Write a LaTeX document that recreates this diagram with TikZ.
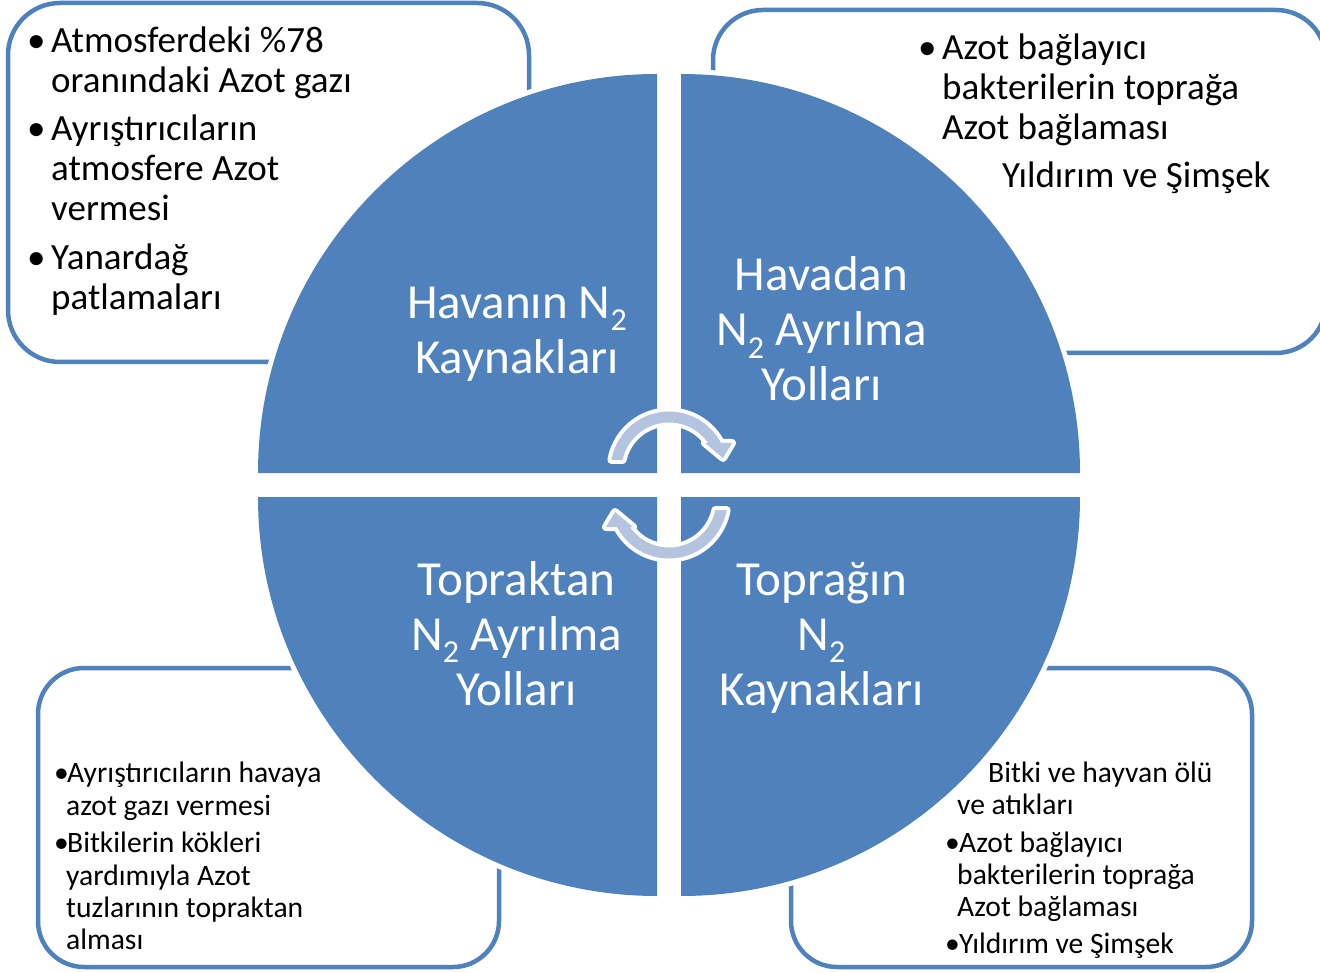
\documentclass[tikz,border=0pt]{standalone}
\usepackage{fontspec}
\setmainfont{Carlito}
\definecolor{pieblue}{RGB}{79,129,189}
\definecolor{boxline}{RGB}{79,129,189}
\definecolor{arrowfill}{RGB}{180,196,223}
\newcommand{\ntwo}{N\raisebox{-0.25em}{\fontsize{32}{32}\selectfont 2}}
\begin{document}
\begin{tikzpicture}[x=1pt,y=1pt,yscale=-1,
  box/.style={draw=boxline, line width=4.5pt, fill=white},
  halo/.style={fill=white},
  quad/.style={fill=pieblue},
  qt/.style={text=white, font=\fontsize{49}{55}\selectfont, anchor=base, inner sep=0pt},
  bt/.style={text=black, font=\fontsize{37}{40}\selectfont, anchor=base west, inner sep=0pt},
  st/.style={text=black, font=\fontsize{29.6}{32}\selectfont, anchor=base west, inner sep=0pt},
  arr/.style={fill=arrowfill, preaction={draw=white, line width=8pt, line join=round}}]
\useasboundingbox (0,0) rectangle (1320,973);
\fill[white] (0,0) rectangle (1320,973);

% boxes
\draw[box, rounded corners=52pt] (8,3) rectangle (529,362);
\draw[box, rounded corners=50pt] (713,10) rectangle (1326,353);
\draw[box, rounded corners=46pt] (38,668) rectangle (499,967);
\draw[box, rounded corners=46pt] (791,668) rectangle (1252,967);

% white halos around quadrants
\fill[halo] (657,473) -- (253,473) arc[start angle=180, end angle=270, radius=404] -- cycle;
\fill[halo] (681,473) -- (681,69) arc[start angle=270, end angle=360, radius=404] -- cycle;
\fill[halo] (681,497) -- (1085,497) arc[start angle=0, end angle=90, radius=404] -- cycle;
\fill[halo] (657,497) -- (657,901) arc[start angle=90, end angle=180, radius=404] -- cycle;

% quadrants
\fill[quad] (657,473) -- (258,473) arc[start angle=180, end angle=270, radius=399] -- cycle;
\fill[quad] (681,473) -- (681,74) arc[start angle=270, end angle=360, radius=399] -- cycle;
\fill[quad] (681,497) -- (1080,497) arc[start angle=0, end angle=90, radius=399] -- cycle;
\fill[quad] (657,497) -- (657,896) arc[start angle=90, end angle=180, radius=399] -- cycle;

% quadrant texts
\node[qt] (q1a) at (517,318.5) {Havanın \ntwo};
\node[qt] (q1b) at (517,373.5) {Kaynakları};
\node[qt] (q2a) at (821.5,291) {Havadan};
\node[qt] (q2b) at (821.5,346) {\ntwo{} Ayrılma};
\node[qt] (q2c) at (821.5,401) {Yolları};
\node[qt] (q3a) at (516.5,595) {Topraktan};
\node[qt] (q3b) at (516.5,650) {\ntwo{} Ayrılma};
\node[qt] (q3c) at (516.5,705) {Yolları};
\node[qt] (q4a) at (821.5,595) {Toprağın};
\node[qt] (q4b) at (821.5,650) {\ntwo};
\node[qt] (q4c) at (821.5,705) {Kaynakları};

% top-left box text
\node[bt] (tlb1) at (27,53) {•};
\node[bt] (tl1) at (51,53) {Atmosferdeki \%78};
\node[bt] (tl2) at (51,93) {oranındaki Azot gazı};
\node[bt] (tlb2) at (27,141) {•};
\node[bt] (tl3) at (51,141) {Ayrıştırıcıların};
\node[bt] (tl4) at (51,181) {atmosfere Azot};
\node[bt] (tl5) at (51,221) {vermesi};
\node[bt] (tlb3) at (27,270) {•};
\node[bt] (tl6) at (51,270) {Yanardağ};
\node[bt] (tl7) at (51,310) {patlamaları};

% top-right box text
\node[bt] (trb1) at (918,60) {•};
\node[bt] (tr1) at (942,60) {Azot bağlayıcı};
\node[bt] (tr2) at (942,100) {bakterilerin toprağa};
\node[bt] (tr3) at (942,140) {Azot bağlaması};
\node[bt] (tr4) at (1002,188) {Yıldırım ve Şimşek};

% bottom-left box text
\node[st] (blb1) at (54,782.5) {•};
\node[st] (bl1) at (67,782.5) {Ayrıştırıcıların havaya};
\node[st] (bl2) at (66,815) {azot gazı vermesi};
\node[st] (blb2) at (54,852) {•};
\node[st] (bl3) at (67,852) {Bitkilerin kökleri};
\node[st] (bl4) at (66,885) {yardımıyla Azot};
\node[st] (bl5) at (66,917.5) {tuzlarının topraktan};
\node[st] (bl6) at (66,949) {alması};

% bottom-right box text
\node[st] (br1) at (988,782) {Bitki ve hayvan ölü};
\node[st] (br2) at (957,814.5) {ve atıkları};
\node[st] (brb1) at (945,852) {•};
\node[st] (br3) at (959,852) {Azot bağlayıcı};
\node[st] (br4) at (957,884) {bakterilerin toprağa};
\node[st] (br5) at (957,916.5) {Azot bağlaması};
\node[st] (brb2) at (945,953) {•};
\node[st] (br6) at (959,953) {Yıldırım ve Şimşek};

% circular arrows
\fill[arr] (611.4,460) arc[start angle=189.85, end angle=332.5, radius=58.5]
  -- (732,443) -- (723,458) -- (705,443) -- (708.1,443)
  arc[start angle=325.4, end angle=192.2, radius=47.5] -- cycle;
\begin{scope}[rotate around={180:(669,485)}]
\fill[arr] (611.4,460) arc[start angle=189.85, end angle=332.5, radius=58.5]
  -- (732,443) -- (723,458) -- (705,443) -- (708.1,443)
  arc[start angle=325.4, end angle=192.2, radius=47.5] -- cycle;
\end{scope}
\end{tikzpicture}
\end{document}
